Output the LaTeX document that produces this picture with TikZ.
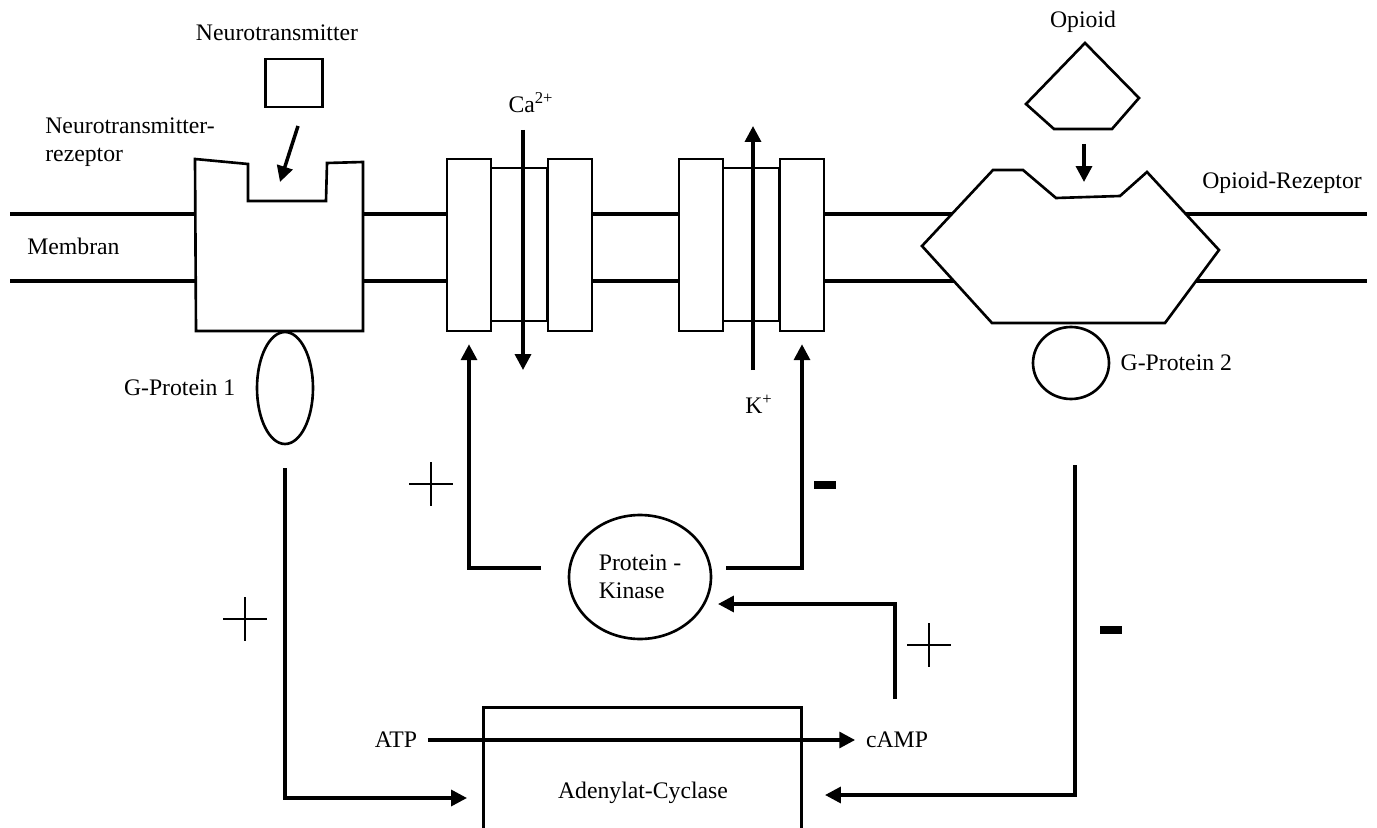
\documentclass[tikz,border=0pt]{standalone}
\usepackage{fontspec}
\setmainfont{Liberation Serif}
\usetikzlibrary{arrows.meta,positioning,shapes.geometric}
\begin{document}
\begin{tikzpicture}[x=0.02cm, y=-0.02cm,
  every node/.style={font=\fontsize{13.5}{16}\selectfont, inner sep=0pt},
  part/.style={draw, line width=1.5pt, fill=white},
  link/.style={line width=2pt, -{Triangle[length=9pt,width=9pt]}},
  signline/.style={line width=1pt}]
  \useasboundingbox (0,0) rectangle (1377,828);
  % membrane
  \draw[line width=2.2pt] (10,214) -- (1367,214);
  \draw[line width=2.2pt] (10,281) -- (1367,281);
  \node[anchor=west] (membran) at (27,246) {Membran};
  % neurotransmitter and its receptor
  \node[part, minimum width=1.14cm, minimum height=0.96cm] (nt) at (294,83) {};
  \node (ntlab) at (277,33) {Neurotransmitter};
  \draw[part] (195,159) -- (248,164) -- (248,201) -- (326,201) -- (327,163) -- (363,162) -- (363,331) -- (196,331) -- cycle;
  \node[anchor=west, align=left] (ntrez) at (45,142) {Neurotransmitter-\\rezeptor};
  \coordinate (ntfrom) at (298,126);
  \coordinate (ntto) at (280,182);
  \draw[link] (ntfrom) -- (ntto);
  \node[part, ellipse, minimum width=1.12cm, minimum height=2.24cm] (g1) at (285,388) {};
  \node[left=0.4cm of g1] (g1lab) {G-Protein 1};
  % ion channels
  \foreach \cx/\nm in {447/ca, 679/k} {
    \node[part, minimum width=1.14cm, minimum height=3.06cm] (\nm m) at (\cx+72,244.5) {};
    \node[part, minimum width=0.88cm, minimum height=3.44cm] (\nm l) at (\cx+22,245) {};
    \node[part, minimum width=0.88cm, minimum height=3.44cm] (\nm r) at (\cx+123,245) {};
  }
  \coordinate (caup) at (523,130);
  \coordinate (cadown) at (523,370);
  \draw[link] (caup) -- (cadown);
  \node (calab) at (531,103) {Ca\textsuperscript{2+}};
  \coordinate (kdown) at (753,370);
  \coordinate (kup) at (753,126);
  \draw[link] (kdown) -- (kup);
  \node (klab) at (759,404) {K\textsuperscript{+}};
  % opioid and its receptor
  \draw[part] (1085,43) -- (1139,98) -- (1112,129) -- (1054,129) -- (1026,104) -- cycle;
  \node (oplab) at (1083,22) {Opioid};
  \coordinate (opfrom) at (1084,144);
  \coordinate (opto) at (1084,182);
  \draw[link] (opfrom) -- (opto);
  \draw[part] (993,170) -- (1023,170) -- (1056,198) -- (1120,196) -- (1147,172) -- (1219,250) -- (1165,323) -- (992,323) -- (922,246) -- cycle;
  \node[anchor=west] (oprez) at (1202,183) {Opioid-Rezeptor};
  \node[part, ellipse, minimum width=1.52cm, minimum height=1.44cm] (g2) at (1071,363) {};
  \node[right=0.2cm of g2] (g2lab) {G-Protein 2};
  % protein kinase
  \node[part, ellipse, minimum width=2.84cm, minimum height=2.48cm, align=left] (pk) at (640,577) {Protein -\\Kinase};
  \coordinate (pkleft) at (541,568);
  \coordinate (pkright) at (726,568);
  \draw[link, shorten >=6.8pt] (pkleft) -| (cal.south);
  \draw[link, shorten >=6.8pt] (pkright) -| (kr.south);
  % adenylat-cyclase
  \node[minimum width=6.34cm, minimum height=2.4cm] (ac) at (642.5,768) {};
  \draw[line width=1.5pt] (ac.south west) -- (ac.north west) -- (ac.north east) -- (ac.south east);
  \node (aclab) at (643,793) {Adenylat-Cyclase};
  \node (atp) at (396,740) {ATP};
  \node (camp) at (897,740) {cAMP};
  \draw[link] ([xshift=6pt]atp.east) -- ([xshift=-6pt]camp.west);
  \coordinate (campup) at (895,699);
  \coordinate (pkin) at (718,604);
  \draw[link] (campup) |- (pkin);
  % G-protein signals
  \coordinate (g1out) at (285,468);
  \coordinate (acleft) at (467,798);
  \draw[link] (g1out) |- (acleft);
  \coordinate (g2out) at (1075,465);
  \coordinate (acright) at (825,795);
  \draw[link] (g2out) |- (acright);
  % signs
  \foreach \px/\py in {245/619, 431/484, 929/645}
    \draw[signline] (\px-22,\py) -- (\px+22,\py) (\px,\py-22) -- (\px,\py+22);
  \foreach \mx/\my in {825/485, 1111/630}
    \fill (\mx-11,\my-4) rectangle (\mx+11,\my+4);
\end{tikzpicture}
\end{document}
